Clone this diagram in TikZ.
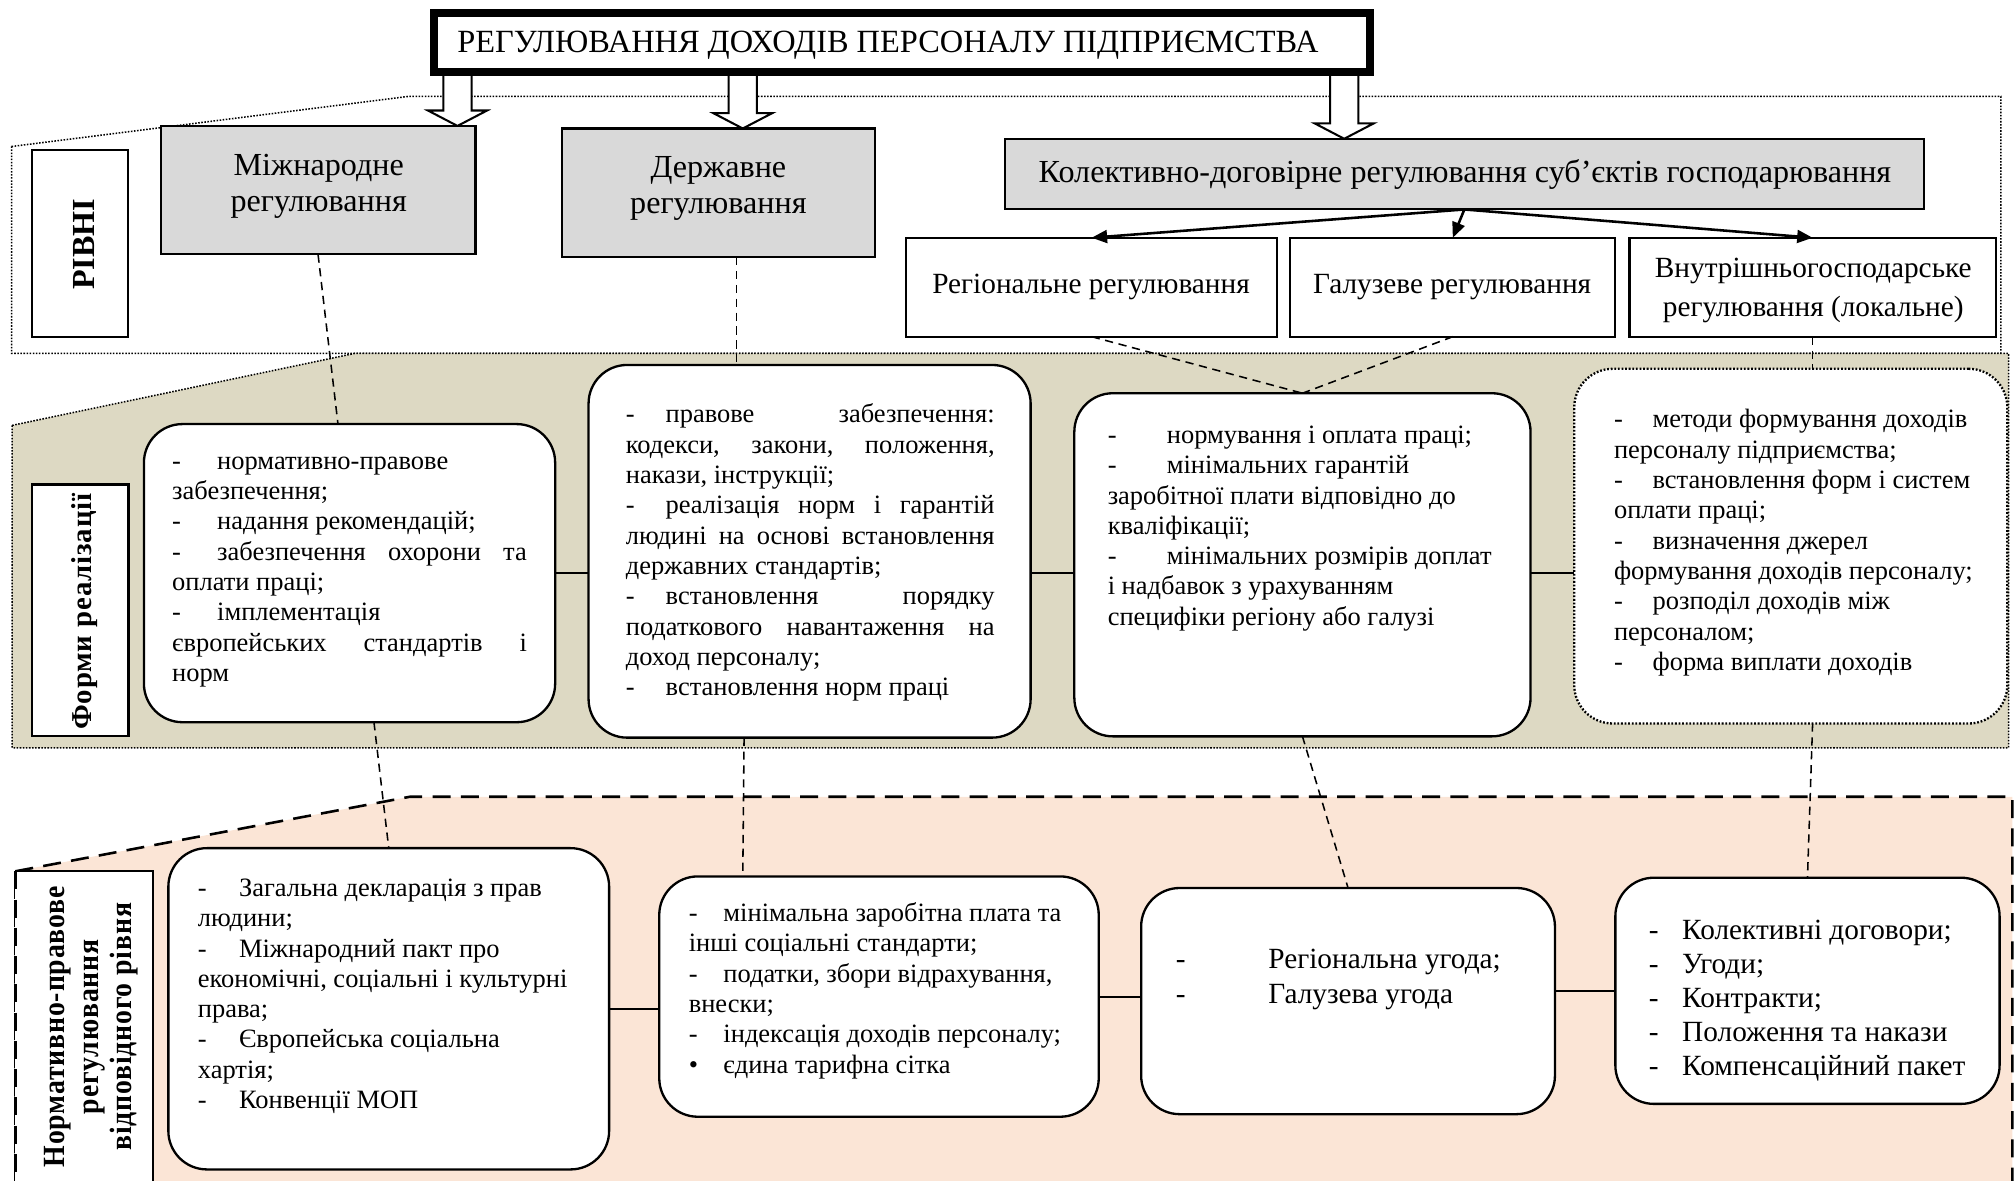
\documentclass[tikz,border=0pt]{standalone}
\usepackage{fontspec}
\setmainfont{Liberation Serif}
\newfontfamily\tagfontwide{Liberation Serif}[LetterSpace=3]
\usetikzlibrary{fit,calc,arrows.meta}
\pgfdeclarelayer{bg}
\pgfsetlayers{bg,main}

\definecolor{levelgray}{HTML}{D9D9D9}
\definecolor{formbeige}{HTML}{DDD9C3}
\definecolor{normpeach}{HTML}{FBE5D6}

% list helpers: a dash (or bullet) followed by a tab-like indent
\newcommand\dashitem[2]{\makebox[#1][l]{-}#2}
\newcommand\dotitem[2]{\makebox[#1][l]{\textbullet}#2}
% a justified line stretched to the full text width
\newcommand\fullline[1]{\makebox[\linewidth][s]{#1}}

\tikzset{
  x=0.5pt, y=-0.5pt,
  every node/.style={inner sep=0pt, outer sep=0pt},
  headbox/.style={draw, line width=3.2pt, fill=white},
  headtext/.style={font=\fontsize{12.6}{14}\selectfont},
  levelbox/.style={draw, line width=0.8pt, fill=levelgray},
  sublevel/.style={draw, line width=0.8pt, fill=white},
  leveltext/.style={align=center, font=\fontsize{12.5}{14}\selectfont},
  subtext/.style={align=center, font=\fontsize{11.4}{15.5}\selectfont},
  tagbox/.style={draw, line width=0.8pt, fill=white},
  tagline/.style={draw, line width=0.8pt},
  roundbox/.style={draw, line width=0.9pt, fill=white, rounded corners=15pt},
  dotbox/.style={roundbox, dash pattern=on 0.7pt off 0.7pt},
  bodytext/.style={anchor=base west, font=\fontsize{10.3}{11.8}\selectfont},
  bigtext/.style={anchor=base west, font=\fontsize{11.4}{13.2}\selectfont},
  link/.style={draw, dash pattern=on 3.2pt off 2.2pt, line width=0.6pt},
  joint/.style={draw, line width=0.8pt},
  split/.style={draw, line width=1pt, -{Triangle[length=6pt,width=5pt]}},
  hollow/.style={draw, line width=0.8pt, fill=white, line join=miter},
  dotframe/.style={draw, line width=0.6pt, dash pattern=on 0.6pt off 0.6pt},
  dashframe/.style={draw, line width=1pt, dash pattern=on 7pt off 4pt},
}

% hollow block arrow along a vertical axis at x=#1, from node #2 down to node #3
\newcommand\blockarrow[3]{%
  \coordinate (ba-s) at (#1,0 |- #2.south);
  \coordinate (ba-t) at (#1,0 |- #3.north);
  \draw[hollow] ($(ba-s)+(-11,0)$) -- ($(ba-t)+(-11,-12)$) -- ($(ba-t)+(-23,-12)$)
    -- (ba-t) -- ($(ba-t)+(23,-12)$) -- ($(ba-t)+(11,-12)$) -- ($(ba-s)+(11,0)$);
}

\begin{document}
\begin{tikzpicture}
\useasboundingbox (0,0) rectangle (1568,919);

% ---------- title ----------
\node[headbox, fit={(338,10) (1066,56)}] (T) {};
\node[headtext] (Ttx) at (691,35.5) {РЕГУЛЮВАННЯ ДОХОДІВ ПЕРСОНАЛУ ПІДПРИЄМСТВА};

% ---------- levels ----------
\node[levelbox, fit={(125,98) (370,198)}] (Mizh) {};
\node[levelbox, fit={(437,100) (681,200)}] (Derzh) {};
\node[levelbox, fit={(782,108) (1497,163)}] (Kol) {};
\node[sublevel, fit={(705,185) (994,262)}] (Reg) {};
\node[sublevel, fit={(1004,185) (1257,262)}] (Gal) {};
\node[sublevel, fit={(1268,185) (1553,262)}] (Vnut) {};

\node[leveltext] (MizhTx) at (248,145) {Міжнародне\\регулювання};
\node[leveltext] (DerzhTx) at (559,147) {Державне\\регулювання};
\node[leveltext] (KolTx) at (1140,136) {Колективно-договірне регулювання суб’єктів господарювання};
\node[subtext] (RegTx) at (849,223) {Регіональне регулювання};
\node[subtext] (GalTx) at (1130,223) {Галузеве регулювання};
\node[subtext] (VnutTx) at (1411,226) {Внутрішньогосподарське\\регулювання (локальне)};

% ---------- side tags ----------
\node[tagbox, fit={(25,117) (99.5,262)}] (LvlTag) {};
\node[rotate=90, font=\fontsize{12.5}{14}\selectfont\bfseries] (LvlTxt) at (65,190) {РІВНІ};
\node[tagbox, fit={(25,377) (100,573)}] (FormTag) {};
\node[rotate=90, font=\tagfontwide\fontsize{11.2}{12}\selectfont\bfseries] (FormTxt) at (66,476) {Форми реалізації};
\node[fill=white, fit={(12,678) (119,940)}] (NormTag) {};
\node[rotate=90, align=center, font=\tagfontwide\fontsize{12}{13.2}\selectfont\bfseries] (NormTxt) at (71,799)
  {\scalebox{0.9}[1]{Нормативно-правове}\\\scalebox{0.9}[1]{регулювання}\\\scalebox{0.9}[1]{відповідного рівня}};

% ---------- forms of realisation ----------
\node[roundbox, fit={(112,330) (432,562)}] (A) {};
\node[roundbox, fit={(458,284) (802,574)}] (B) {};
\node[roundbox, fit={(836,306) (1191,573)}] (C) {};
\node[dotbox, fit={(1225,287) (1562,563)}] (D) {};

\node[bodytext] (Atx) at (134,365) {\parbox[t]{138pt}{%
  \dashitem{17.5pt}{нормативно-правове}\\
  забезпечення;\\
  \dashitem{17.5pt}{надання рекомендацій;}\\
  \fullline{\dashitem{17.5pt}{забезпечення охорони та}}\\
  оплати праці;\\
  \dashitem{17.5pt}{імплементація}\\
  \fullline{європейських стандартів і}\\
  норм}};

\node[bodytext] (Btx) at (487,329) {\parbox[t]{143.5pt}{%
  \fullline{\dashitem{15.5pt}{правове забезпечення:}}\\
  \fullline{кодекси, закони, положення,}\\
  накази, інструкції;\\
  \fullline{\dashitem{15.5pt}{реалізація норм і гарантій}}\\
  \fullline{людині на основі встановлення}\\
  державних стандартів;\\
  \fullline{\dashitem{15.5pt}{встановлення порядку}}\\
  \fullline{податкового навантаження на}\\
  доход персоналу;\\
  \dashitem{15.5pt}{встановлення норм праці}}};

\node[bodytext] (Ctx) at (862,345) {\parbox[t]{160pt}{%
  \dashitem{23pt}{нормування і оплата праці;}\\
  \dashitem{23pt}{мінімальних гарантій}\\
  заробітної плати відповідно до\\
  кваліфікації;\\
  \dashitem{23pt}{мінімальних розмірів доплат}\\
  і надбавок з урахуванням\\
  специфіки регіону або галузі}};

\node[bodytext] (Dtx) at (1256,333) {\parbox[t]{150pt}{%
  \dashitem{15pt}{методи формування доходів}\\
  персоналу підприємства;\\
  \dashitem{15pt}{встановлення форм і систем}\\
  оплати праці;\\
  \dashitem{15pt}{визначення джерел}\\
  формування доходів персоналу;\\
  \dashitem{15pt}{розподіл доходів між}\\
  персоналом;\\
  \dashitem{15pt}{форма виплати доходів}}};

% ---------- normative regulation ----------
\node[roundbox, fit={(131,660) (474,910)}] (E) {};
\node[roundbox, fit={(513,682) (855,869)}] (F) {};
\node[roundbox, fit={(888,691) (1210,867)}] (G) {};
\node[roundbox, fit={(1257,683) (1556,859)}] (H) {};

\node[bodytext] (Etx) at (154,697.5) {\parbox[t]{155pt}{%
  \dashitem{16pt}{Загальна декларація з прав}\\
  людини;\\
  \dashitem{16pt}{Міжнародний пакт про}\\
  економічні, соціальні і культурні\\
  права;\\
  \dashitem{16pt}{Європейська соціальна}\\
  хартія;\\
  \dashitem{16pt}{Конвенції МОП}}};

\node[bodytext] (Ftx) at (536,717) {\parbox[t]{155pt}{%
  \dashitem{13.5pt}{мінімальна заробітна плата та}\\
  інші соціальні стандарти;\\
  \dashitem{13.5pt}{податки, збори відрахування,}\\
  внески;\\
  \dashitem{13.5pt}{індексація доходів персоналу;}\\
  \dotitem{13.5pt}{єдина тарифна сітка}}};

\node[bigtext, font=\fontsize{11.4}{13.5}\selectfont] (Gtx) at (915,753.5) {\parbox[t]{145pt}{%
  \dashitem{36pt}{Регіональна угода;}\\
  \dashitem{36pt}{Галузева угода}}};

\node[bigtext] (Htx) at (1283,731) {\parbox[t]{140pt}{%
  \dashitem{13pt}{Колективні договори;}\\
  \dashitem{13pt}{Угоди;}\\
  \dashitem{13pt}{Контракти;}\\
  \dashitem{13pt}{Положення та накази}\\
  \dashitem{13pt}{Компенсаційний пакет}}};

% ---------- background bands and block arrows ----------
\begin{pgfonlayer}{bg}
  \draw[dotframe, fill=white] (9,114) -- (318,75) -- (1557,75) -- (1557,275) -- (9,275) -- cycle;
  \draw[dotframe, fill=formbeige] (9.5,331) -- (276,275) -- (1563,275) -- (1563,582) -- (9.5,582) -- cycle;
  \draw[dashframe, fill=normpeach] (12,678) -- (319,620) -- (1566,620) -- (1566,940) -- (12,940) -- cycle;
  \blockarrow{356}{T}{Mizh}
  \blockarrow{578}{T}{Derzh}
  \blockarrow{1046}{T}{Kol}
\end{pgfonlayer}

% tag of the lower band: solid top and right edges, the band's dashed edge on the left
\draw[tagline] (NormTag.south east) -- (NormTag.north east) -- (NormTag.north west);
\draw[dashframe] (NormTag.north west) -- (NormTag.south west);

% ---------- connectors ----------
\draw[split] (Kol.south) -- (Reg.north);
\draw[split] (Kol.south) -- (Gal.north);
\draw[split] (Kol.south) -- (Vnut.north);

\draw[link] (Mizh.south) -- (263,0 |- A.north);
\draw[link] (291,0 |- A.south) -- (E.north);
\draw[link] (573,0 |- Derzh.south) -- (573,0 |- B.north);
\draw[link] (579,0 |- B.south) -- (578,0 |- F.north);
\draw[link] (Reg.south) -- (C.north);
\draw[link] (Gal.south) -- (C.north);
\draw[link] (C.south) -- (G.north);
\draw[link] (Vnut.south) -- (Vnut.south |- D.north);
\draw[link] (Vnut.south |- D.south) -- (H.north);

\draw[joint] (A.east) -- (A.east -| B.west);
\draw[joint] (B.east |- A.east) -- (C.west |- A.east);
\draw[joint] (C.east |- A.east) -- (D.west |- A.east);
\draw[joint] (E.east) -- (E.east -| F.west);
\draw[joint] (F.east) -- (F.east -| G.west);
\draw[joint] (H.west -| G.east) -- (H.west);
\end{tikzpicture}
\end{document}
